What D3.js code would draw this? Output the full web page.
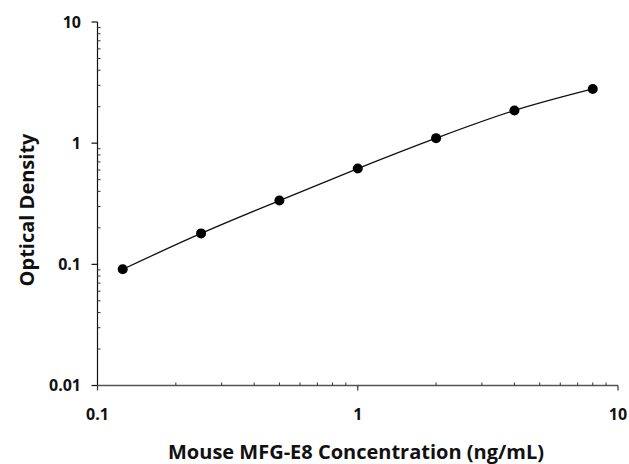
<!DOCTYPE html>
<html><head><meta charset="utf-8">
<script src="https://cdn.jsdelivr.net/npm/d3@7"></script>
<style>body{margin:0;background:#fff}svg{display:block}</style>
</head><body>
<script>
const concentrations = [0.125, 0.25, 0.5, 1, 2, 4, 8];
const opticalDensity = [0.091, 0.18, 0.336, 0.617, 1.1, 1.86, 2.8];
const xTickValues = [0.1, 1, 10];
const xTickLabels = ["0.1", "1", "10"];
const yTickValues = [0.01, 0.1, 1, 10];
const yTickLabels = ["0.01", "0.1", "1", "10"];
const xTitle = "Mouse MFG-E8 Concentration (ng/mL)";
const yTitle = "Optical Density";

const W = 629, H = 464;
const svg = d3.select("body").append("svg").attr("width", W).attr("height", H);
const x = d3.scaleLog().domain([0.1, 10]).range([97.5, 618]);
const y = d3.scaleLog().domain([0.01, 10]).range([385.5, 22]);
const font = "'Open Sans', sans-serif";

function minors(lo, hi) {
  const out = [];
  for (let d = lo; d < hi; d *= 10) for (let k = 2; k <= 9; k++) out.push(d * k);
  return out;
}

// Y axis
const gy = svg.append("g");
gy.append("line").attr("x1", x(0.1)).attr("x2", x(0.1)).attr("y1", y(0.01)).attr("y2", y(10)).attr("stroke", "#111").attr("stroke-width", 1.2);
gy.selectAll(".ymaj").data(yTickValues).join("line")
  .attr("x1", x(0.1) - 6).attr("x2", x(0.1)).attr("y1", d => y(d)).attr("y2", d => y(d)).attr("stroke", "#111").attr("stroke-width", 1.2);
gy.selectAll(".ymin").data(minors(0.01, 10)).join("line")
  .attr("x1", x(0.1)).attr("x2", x(0.1) + 3).attr("y1", d => y(d)).attr("y2", d => y(d)).attr("stroke", "#333").attr("stroke-width", 1);
gy.selectAll("text").data(yTickValues).join("text")
  .attr("x", 81).attr("y", d => y(d)).attr("dy", "0.35em").attr("text-anchor", "end")
  .attr("font-family", font).attr("font-weight", "bold").attr("font-size", 16).attr("fill", "#111")
  .text((d, i) => yTickLabels[i]);

// X axis
const gx = svg.append("g");
gx.append("line").attr("x1", x(0.1)).attr("x2", x(10)).attr("y1", y(0.01)).attr("y2", y(0.01)).attr("stroke", "#555").attr("stroke-width", 1.4);
gx.selectAll(".xmaj").data(xTickValues).join("line")
  .attr("x1", d => x(d)).attr("x2", d => x(d)).attr("y1", y(0.01)).attr("y2", y(0.01) + 5).attr("stroke", "#333").attr("stroke-width", 1.2);
gx.selectAll(".xmin").data(minors(0.1, 10)).join("line")
  .attr("x1", d => x(d)).attr("x2", d => x(d)).attr("y1", y(0.01) - 3).attr("y2", y(0.01)).attr("stroke", "#333").attr("stroke-width", 1);
gx.selectAll("text").data(xTickValues).join("text")
  .attr("x", d => x(d)).attr("y", 420).attr("text-anchor", "middle")
  .attr("font-family", font).attr("font-weight", "bold").attr("font-size", 16).attr("fill", "#111")
  .text((d, i) => xTickLabels[i]);

// Titles
svg.append("text").attr("x", 356).attr("y", 459).attr("text-anchor", "middle")
  .attr("font-family", font).attr("font-weight", "bold").attr("font-size", 20).attr("fill", "#111").text(xTitle);
svg.append("text").attr("transform", "translate(34,210) rotate(-90)").attr("text-anchor", "middle")
  .attr("font-family", font).attr("font-weight", "bold").attr("font-size", 20).attr("fill", "#111").text(yTitle);

// Curve
const pts = concentrations.map((c, i) => [c, opticalDensity[i]]);
const line = d3.line().x(d => x(d[0])).y(d => y(d[1])).curve(d3.curveMonotoneX);
svg.append("path").attr("d", line(pts)).attr("fill", "none").attr("stroke", "#111").attr("stroke-width", 1.3);
svg.selectAll("circle").data(pts).join("circle")
  .attr("cx", d => x(d[0])).attr("cy", d => y(d[1])).attr("r", 5).attr("fill", "#000");
</script>
</body></html>
